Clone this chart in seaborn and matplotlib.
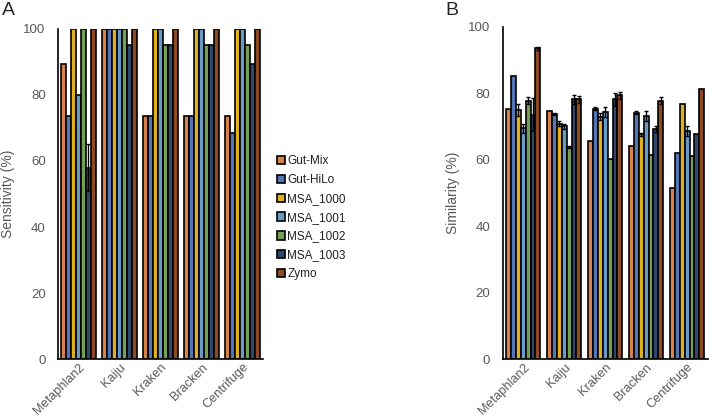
import numpy as np
import pandas as pd
import seaborn as sns
import matplotlib.pyplot as plt

tools = ["Metaphlan2", "Kaiju", "Kraken", "Bracken", "Centrifuge"]
samples = ["Gut-Mix", "Gut-HiLo", "MSA_1000", "MSA_1001", "MSA_1002", "MSA_1003", "Zymo"]
colors = ["#ED7D31", "#4472C4", "#FFC000", "#5B9BD5", "#70AD47", "#264478", "#9E480E"]

# sensitivity (%) per sample, values listed by tool
sens = {
    "Gut-Mix":  [89.5, 100, 73.7, 73.7, 73.7],
    "Gut-HiLo": [73.7, 100, 73.7, 73.7, 68.4],
    "MSA_1000": [100, 100, 100, 100, 100],
    "MSA_1001": [80, 100, 100, 100, 100],
    "MSA_1002": [100, 100, 95, 95, 95],
    "MSA_1003": [58, 95, 95, 95, 89.5],
    "Zymo":     [100, 100, 100, 100, 100],
}
sens_err = {
    "Gut-Mix":  [0, 0, 0, 0, 0],
    "Gut-HiLo": [0, 0, 0, 0, 0],
    "MSA_1000": [0, 0, 0, 0, 0],
    "MSA_1001": [0, 0, 0, 0, 0],
    "MSA_1002": [0, 0, 0, 0, 0],
    "MSA_1003": [7, 0, 0, 0, 0],
    "Zymo":     [0, 0, 0, 0, 0],
}

# similarity (%) per sample
sim = {
    "Gut-Mix":  [75.3, 74.8, 65.5, 64.2, 51.5],
    "Gut-HiLo": [85.2, 73.8, 75.4, 74.2, 62.1],
    "MSA_1000": [75.0, 70.8, 73.0, 67.6, 76.8],
    "MSA_1001": [69.4, 70.0, 74.4, 73.2, 68.6],
    "MSA_1002": [77.8, 63.7, 60.1, 61.5, 61.0],
    "MSA_1003": [73.5, 78.2, 78.2, 69.2, 67.8],
    "Zymo":     [93.5, 78.2, 79.4, 77.8, 81.4],
}
sim_err = {
    "Gut-Mix":  [0, 0, 0, 0, 0],
    "Gut-HiLo": [0, 0.4, 0.5, 0.5, 0],
    "MSA_1000": [1.8, 0.8, 1.0, 0.5, 0],
    "MSA_1001": [1.5, 0.8, 1.5, 1.5, 1.5],
    "MSA_1002": [1.0, 0.3, 0, 0, 0],
    "MSA_1003": [5.0, 1.3, 2.0, 1.0, 0],
    "Zymo":     [0.5, 1.0, 1.0, 1.0, 0],
}


def to_long(d):
    rows = []
    for s in samples:
        for t, v in zip(tools, d[s]):
            rows.append({"tool": t, "sample": s, "value": v})
    return pd.DataFrame(rows)


sns.set_theme(style="white")
plt.rcParams["font.family"] = ["Liberation Sans", "DejaVu Sans"]
grey = "#595959"

fig = plt.figure(figsize=(7.09, 4.19), dpi=100)
ax_a = fig.add_axes([0.082, 0.143, 0.289, 0.788])
ax_b = fig.add_axes([0.709, 0.143, 0.289, 0.793])


def draw(ax, d, err, ylabel):
    sns.barplot(data=to_long(d), x="tool", y="value", hue="sample",
                hue_order=samples, palette=colors, order=tools,
                errorbar=None, width=0.84, edgecolor="black", linewidth=1.2,
                ax=ax)
    for cont, s in zip(ax.containers, samples):
        for bar, e in zip(cont, err[s]):
            if e > 0:
                ax.errorbar(bar.get_x() + bar.get_width() / 2, bar.get_height(),
                            yerr=e, color="black", lw=1, capsize=1.5, zorder=5)
    ax.set_ylim(0, 100)
    ax.set_yticks(range(0, 101, 20))
    ax.set_xlim(-0.5, 4.5)
    ax.set_xlabel("")
    ax.set_ylabel(ylabel, fontsize=10, color=grey, labelpad=6)
    ax.tick_params(axis="y", labelsize=9.5, colors=grey, length=0, pad=9)
    ax.tick_params(axis="x", labelsize=9.2, colors=grey, length=0, pad=1.5)
    plt.setp(ax.get_xticklabels(), rotation=45, ha="right", rotation_mode="anchor")
    for side in ["top", "right"]:
        ax.spines[side].set_visible(False)
    for side in ["left", "bottom"]:
        ax.spines[side].set_color("black")
        ax.spines[side].set_linewidth(1.2)


draw(ax_a, sens, sens_err, "Sensitivity (%)")
draw(ax_b, sim, sim_err, "Similarity (%)")

handles, labels = ax_a.get_legend_handles_labels()
ax_a.get_legend().remove()
ax_b.get_legend().remove()
fig.legend(handles, labels, loc="upper left", bbox_to_anchor=(0.375, 0.655),
           frameon=False, fontsize=8.5, handlelength=0.7, handleheight=0.7,
           handletextpad=0.2, labelspacing=0.58, labelcolor="#222222")

fig.text(0.003, 0.995, "A", fontsize=14, va="top", ha="left")
fig.text(0.628, 0.995, "B", fontsize=14, va="top", ha="left")

fig.savefig("out.png", dpi=100)
